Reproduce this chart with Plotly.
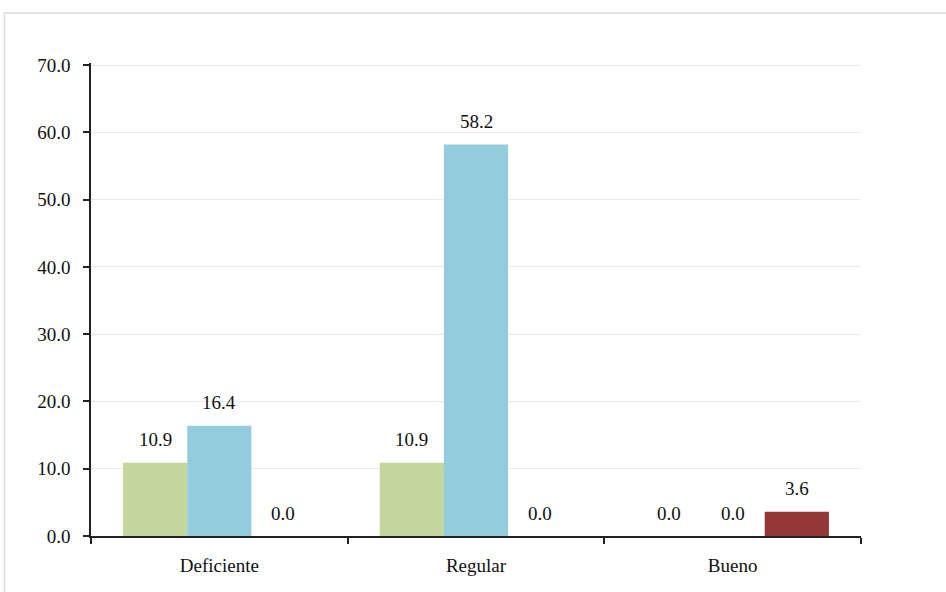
import plotly.graph_objects as go

categories = ["Deficiente", "Regular", "Bueno"]
serie_1 = [10.9, 10.9, 0.0]
serie_2 = [16.4, 58.2, 0.0]
serie_3 = [0.0, 0.0, 3.6]
colors = ["#C3D69B", "#93CDDD", "#953735"]
y_ticks = [0, 10, 20, 30, 40, 50, 60, 70]

FONT = "Liberation Serif"

fig = go.Figure()
series = [serie_1, serie_2, serie_3]
for vals, col in zip(series, colors):
    fig.add_trace(go.Bar(x=categories, y=vals, marker=dict(color=col, line=dict(width=0)),
                         showlegend=False, hoverinfo="x+y"))

# value labels above each bar
plot_w = 946 - 91 - 85
bar_px = plot_w / len(categories) * 0.75 / len(series)
for i, vals in enumerate(series):
    for cat, v in zip(categories, vals):
        fig.add_annotation(x=cat, y=v, text=f"{v:.1f}", showarrow=False,
                           xshift=(i - 1) * bar_px, yshift=23, yanchor="middle",
                           font=dict(family=FONT, size=19, color="#111111"))

# outer chart frame
fig.add_shape(type="rect", xref="paper", yref="paper",
              x0=(4.5 - 91) / plot_w, x1=1.3, y0=-0.3, y1=(536 - 13) / 473,
              line=dict(color="#D9D9D9", width=1.5), fillcolor="rgba(0,0,0,0)", layer="below")

fig.update_layout(
    width=946, height=592,
    margin=dict(l=91, r=85, t=63, b=56),
    paper_bgcolor="white", plot_bgcolor="white",
    barmode="group", bargap=0.25, bargroupgap=0,
    font=dict(family=FONT, size=19, color="#111111"),
)
fig.update_yaxes(range=[0, 70.3], tickvals=y_ticks, ticktext=[f"{t:.1f}" for t in y_ticks],
                 showgrid=True, gridcolor="#EBEBEB", gridwidth=1,
                 showline=True, linecolor="#222222", linewidth=1.5,
                 ticks="outside", ticklen=6, tickcolor="#222222", tickwidth=1.5,
                 ticklabelstandoff=9,
                 zeroline=False, tickfont=dict(family=FONT, size=19))
fig.update_xaxes(showline=True, linecolor="#222222", linewidth=1.5,
                 ticks="outside", tickson="boundaries", ticklen=6, tickcolor="#222222",
                 tickwidth=1.5, ticklabelstandoff=11, tickfont=dict(family=FONT, size=19))

fig.write_html("out.html")
